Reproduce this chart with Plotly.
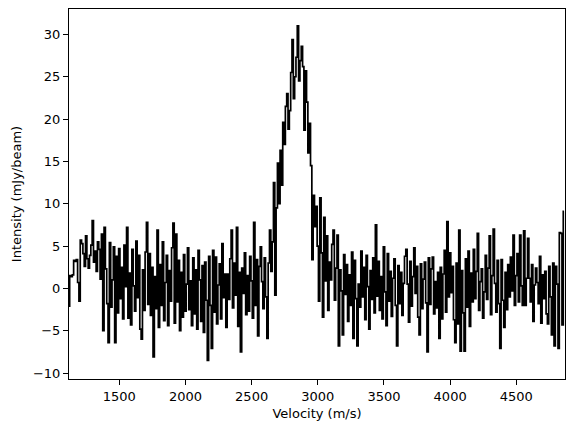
"""HI line spectrum: intensity against velocity."""
import plotly.graph_objects as go

# --- Data ---
V_START = 1120      # m/s, first channel
CHANNEL_WIDTH = 10  # m/s

# one row per 150 m/s (15 channels)
intensity = [
    -2.1, 1.5, 1.4, 1.6, 3.3, 3.2, 3.4, 0.7, -1.5, 5.7, 5.3, 4.1, 2.6, 6.2, 3.5,
    2.4, 3.9, 5.1, 8.0, 3.1, 4.4, 2.0, 5.5, 4.6, 1.1, 6.4, -5.0, 7.2, 2.3, -1.8,
    -6.4, 5.4, -2.2, 1.0, 4.9, -6.4, 3.8, -2.9, 4.7, -1.2, 2.5, -3.6, 5.1, 0.2, 7.2,
    -3.5, 1.8, -4.3, 4.6, 0.3, -2.7, 5.6, -1.1, 3.9, -4.8, -6.0, 2.2, -2.6, 4.3, 7.8,
    -1.9, 4.1, -3.2, 2.5, -8.1, 1.4, -2.4, 6.9, -4.6, 2.8, -2.0, 5.5, -3.8, 0.7, 3.9,
    -4.4, 2.1, -1.5, 4.8, 7.7, -4.1, 6.4, -1.6, 3.3, -5.0, 1.9, -3.4, 4.0, -2.7, 0.5,
    4.8, -2.5, 0.9, -4.4, 3.6, -3.0, 2.2, -4.8, 4.5, 1.0, -3.9, 2.7, -5.2, 3.1, -1.4,
    -8.5, 3.8, -2.0, -7.1, 4.5, -2.8, 3.7, -4.2, 0.4, 2.9, -3.6, 5.3, -1.1, 1.7, -4.6,
    1.7, -1.3, 3.5, 6.9, -2.3, 3.0, -0.8, 7.2, -4.5, 1.9, -7.5, 2.4, -0.6, 4.2, -3.1,
    1.5, -2.7, 3.8, 0.9, -3.5, 7.8, -2.0, 3.4, -5.6, 2.6, 4.9, 0.8, -2.4, 3.6, -1.0,
    # 2620 - 3060: the line
    -5.9, 3.0, 6.9, 2.0, 5.5, 12.5, -0.8, 9.5, 14.8, 10.0, 16.3, 12.2, 19.6, 17.0, 21.5,
    23.0, 18.8, 21.0, 25.5, 29.4, 22.4, 25.0, 27.3, 31.0, 24.5, 26.9, 28.6, 26.2, 18.7, 25.7,
    22.0, 16.0, 19.5, 14.5, 3.4, 11.0, 7.3, 9.7, 5.0, -1.5, 10.7, 4.2, -3.4, 8.4, 0.9,
    # 3070 onwards
    6.2, -2.6, 3.1, 1.0, 5.2, 6.9, -1.4, 2.4, 6.3, -6.8, 2.2, -0.3, -5.5, 4.0, -0.7,
    2.8, -3.9, 1.6, -2.0, 4.3, -5.9, 3.3, -1.2, -6.8, 0.5, -2.2, 4.4, -1.0, 2.5, -3.7,
    3.9, 0.2, -4.8, 2.1, -1.3, 3.6, -2.9, 7.5, -0.9, 3.2, -2.6, 1.4, -3.6, 4.9, -0.4,
    -4.4, 4.1, -1.5, 2.0, -3.3, 1.2, 3.5, -2.0, -6.8, 2.7, -1.8, 1.9, -3.2, 0.6, 3.8,
    4.6, 0.5, -4.0, 3.2, -2.1, 1.4, 4.8, -0.6, 2.6, -3.4, -5.5, 2.9, -2.4, 1.1, 3.1,
    -1.7, -7.5, 3.6, -1.9, 2.3, 3.7, -3.0, 0.8, -2.3, 1.9, -5.9, 2.5, -3.6, 1.7, 4.5,
    -2.8, 7.9, -1.0, 4.2, -0.5, 2.6, -3.7, -6.4, 3.0, -4.2, 6.9, -7.4, 2.1, -2.9, -7.4,
    3.5, -2.2, 4.4, -4.5, 1.8, -1.6, 4.6, -1.2, 2.0, 6.5, -2.6, 0.8, 2.3, -3.5, -0.4,
    3.9, -1.3, 2.4, 6.2, -3.1, 1.5, 7.0, 0.6, -2.8, 3.3, -1.8, -7.1, 3.4, -1.4, -4.6,
    1.9, -2.5, 2.8, -1.0, 3.7, -0.3, 6.3, -2.0, 1.5, 4.1, -1.6, 6.3, 0.3, -2.0, 6.8,
    -2.0, 1.2, 5.9, 1.2, -1.6, 2.8, -3.9, 0.4, 2.4, 0.7, -1.8, 3.8, -4.1, 1.6, -1.2,
    2.0, -3.0, -4.2, 2.6, -1.0, -5.5, 3.0, -6.8, 2.6, 0.5, -7.1, 6.6, 6.5, -4.3, 9.1,
]

velocity = [V_START + CHANNEL_WIDTH * i for i in range(len(intensity))]

X_TICKS = [1500, 2000, 2500, 3000, 3500, 4000, 4500]
Y_TICKS = [-10, -5, 0, 5, 10, 15, 20, 25, 30]

# --- Style ---
FONT = dict(family="DejaVu Sans", size=13, color="black")
AXIS_STYLE = dict(
    showline=True, linecolor="black", linewidth=1, mirror=True,
    ticks="outside", ticklen=5, tickcolor="black", tickwidth=1,
    showgrid=False, zeroline=False, tickfont=FONT, automargin=False,
)

fig = go.Figure()
fig.add_trace(go.Scatter(
    x=velocity, y=intensity, mode="lines",
    line=dict(color="black", width=1.7, shape="hvh"),
    showlegend=False,
))

# page body adds an 8px offset, so the figure is 8px smaller than the window
fig.update_layout(
    width=566, height=424,
    margin=dict(l=61, r=9, t=1, b=53),
    plot_bgcolor="white", paper_bgcolor="white",
    font=FONT,
    xaxis=dict(AXIS_STYLE, range=[velocity[0], velocity[-1] + 8],
               tickvals=X_TICKS,
               title=dict(text="Velocity (m/s)", font=FONT, standoff=6)),
    yaxis=dict(AXIS_STYLE, range=[-10.7, 33.0], tickvals=Y_TICKS,
               title=dict(text="Intensity (mJy/beam)", font=FONT, standoff=8)),
)

fig.write_html("out.html")
